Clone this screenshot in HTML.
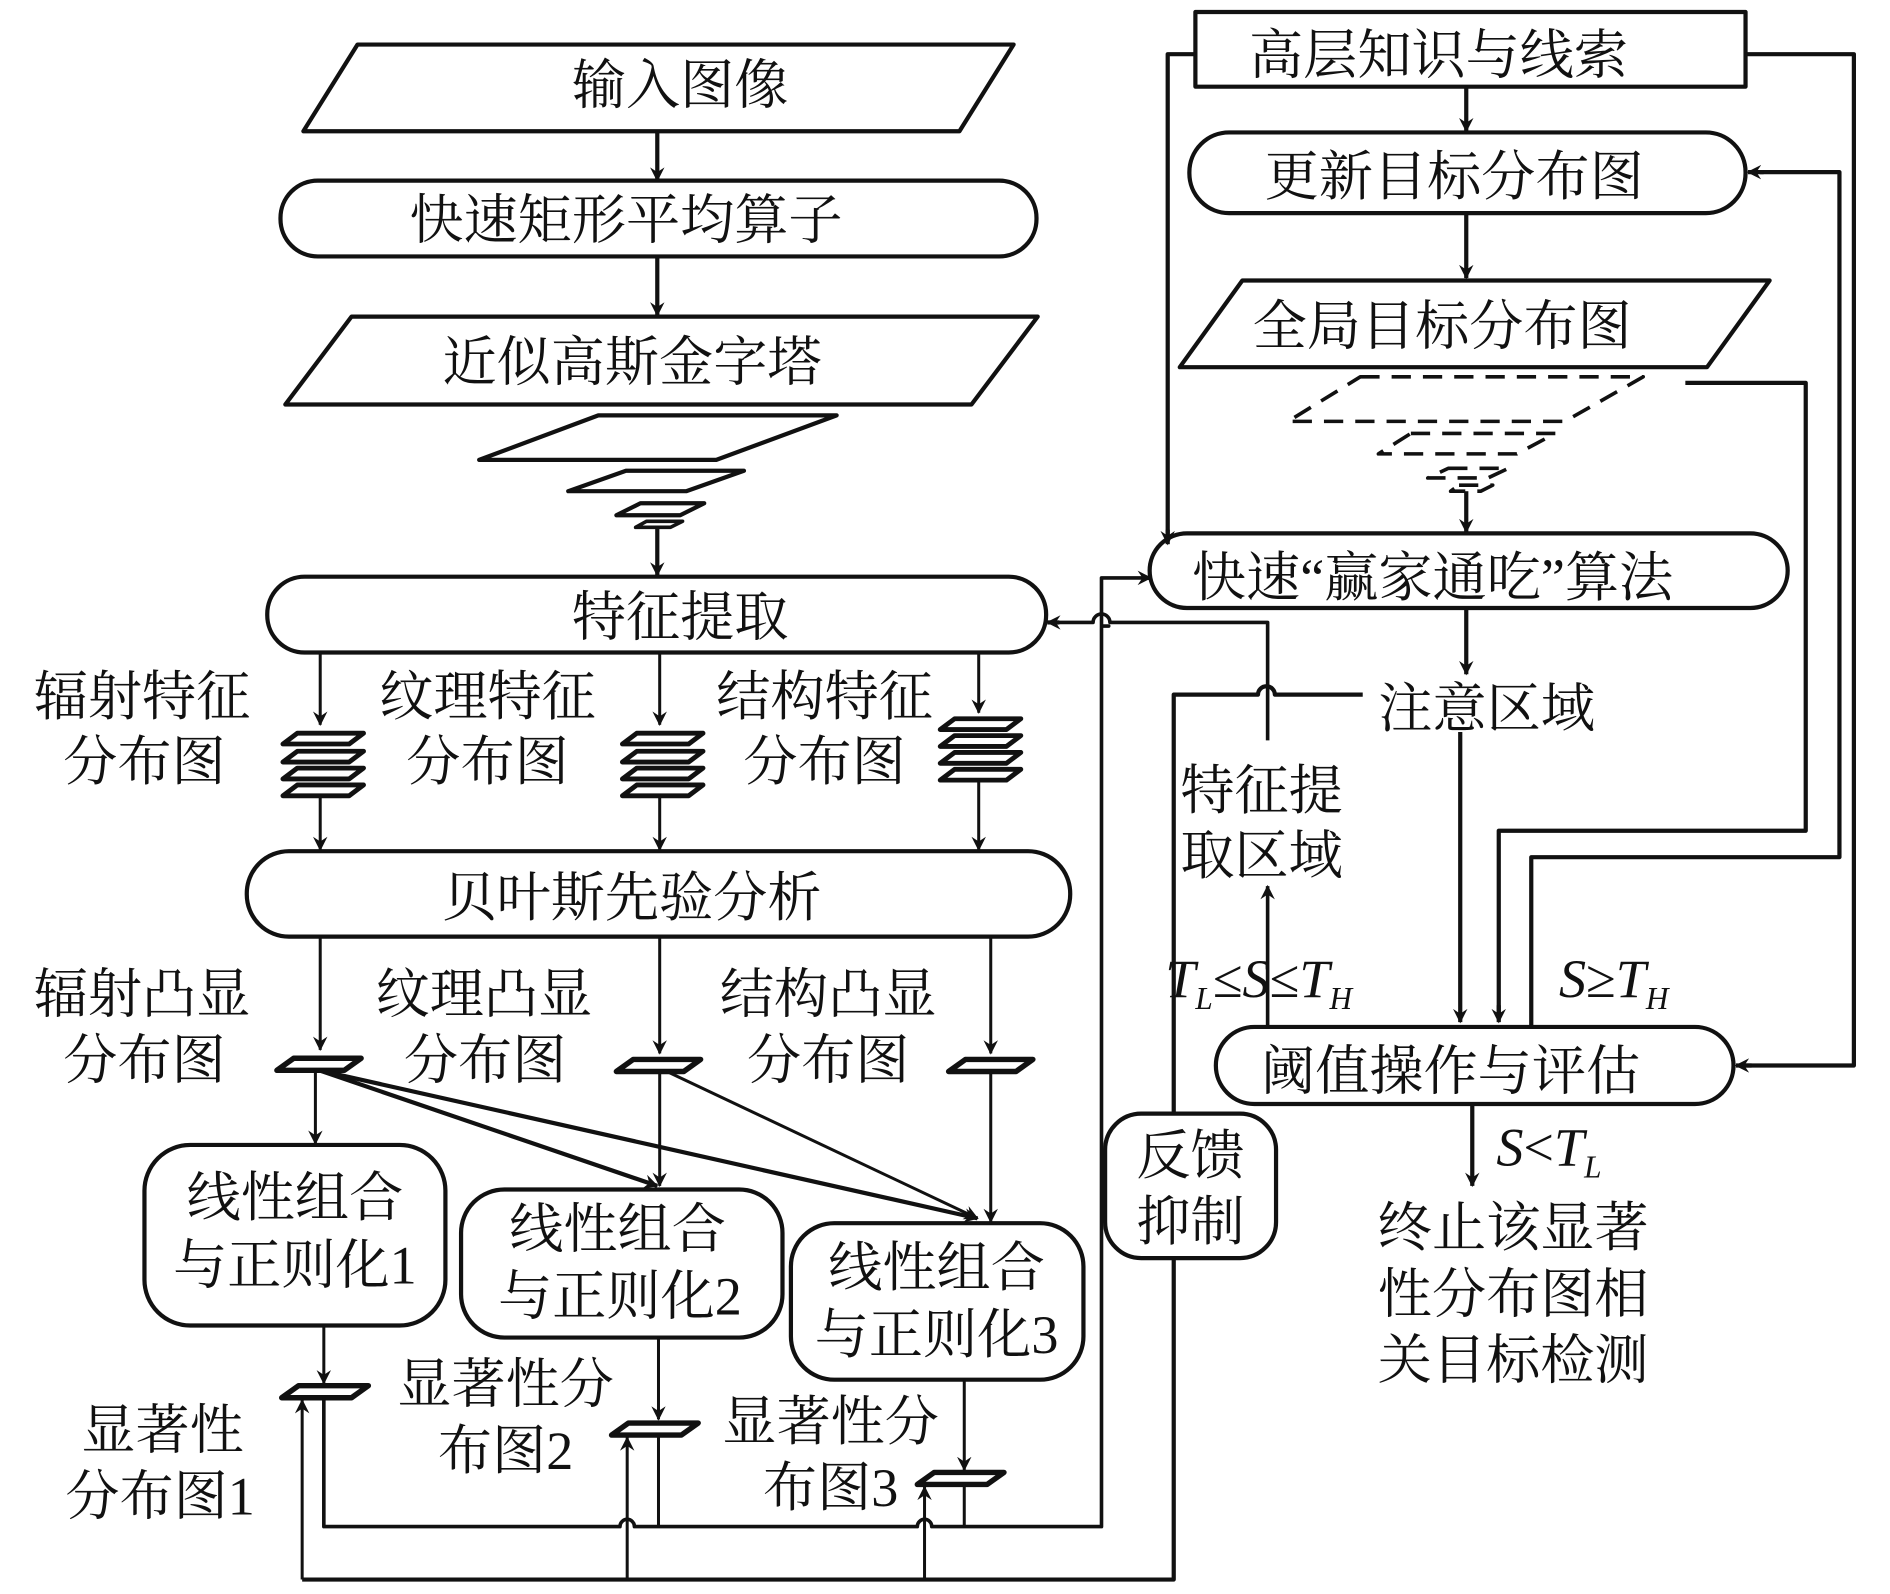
<!DOCTYPE html>
<html><head><meta charset="utf-8"><style>
html,body{margin:0;padding:0;background:#fff;width:1890px;height:1594px;overflow:hidden}
svg{display:block}
text{font-family:"Liberation Serif","Noto Serif CJK SC",serif;font-size:45px;fill:#111}
.it{font-style:italic}
</style></head><body>
<svg width="1890" height="1594" viewBox="0 0 1570 1324" preserveAspectRatio="none" xmlns="http://www.w3.org/2000/svg">
<defs>
<marker id="a" viewBox="0 0 12 12" refX="11" refY="6" markerWidth="12" markerHeight="12" markerUnits="userSpaceOnUse" orient="auto">
<path d="M0,0 L12,6 L0,12 L4,6 Z" fill="#111"/></marker>
</defs>
<g fill="none" stroke="#111" stroke-width="3.5" stroke-linejoin="round">
<!-- left column -->
<path d="M297,37 L842,37 L797,109 L252,109 Z" fill="#fff"/>
<line x1="546" y1="109" x2="546" y2="150" marker-end="url(#a)"/>
<rect x="233" y="150" width="628" height="63" rx="31" fill="#fff"/>
<line x1="546" y1="213" x2="546" y2="262" marker-end="url(#a)"/>
<path d="M292,263 L862,263 L807,336 L237,336 Z" fill="#fff"/>
<path d="M497,345 L695,345 L595,382 L398,382 Z"/>
<path d="M520,391 L618,391 L570,408 L472,408 Z"/>
<path d="M532,418 L585,418 L565,428 L512,428 Z"/>
<path d="M537,433 L567,433 L557,438 L528,438 Z" stroke-width="3"/>
<line x1="546" y1="438" x2="546" y2="478" marker-end="url(#a)"/>
<rect x="222" y="479" width="647" height="63" rx="31" fill="#fff"/>
<!-- feature arrows -->
<line x1="266" y1="542" x2="266" y2="602" stroke-width="2.5" marker-end="url(#a)"/>
<line x1="548" y1="542" x2="548" y2="602" stroke-width="2.5" marker-end="url(#a)"/>
<line x1="813" y1="542" x2="813" y2="592" stroke-width="2.5" marker-end="url(#a)"/>
<!-- stacks -->
<path d="M247,609 L302,609 L290,618 L235,618 Z M247,624 L302,624 L290,633 L235,633 Z M247,638 L302,638 L290,647 L235,647 Z M247,652 L302,652 L290,661 L235,661 Z" stroke-width="4"/>
<path d="M529,609 L584,609 L572,618 L517,618 Z M529,624 L584,624 L572,633 L517,633 Z M529,638 L584,638 L572,647 L517,647 Z M529,652 L584,652 L572,661 L517,661 Z" stroke-width="4"/>
<path d="M793,597 L848,597 L836,606 L781,606 Z M793,611 L848,611 L836,620 L781,620 Z M793,625 L848,625 L836,634 L781,634 Z M793,639 L848,639 L836,648 L781,648 Z" stroke-width="4"/>
<line x1="266" y1="661" x2="266" y2="706" stroke-width="2.5" marker-end="url(#a)"/>
<line x1="548" y1="661" x2="548" y2="706" stroke-width="2.5" marker-end="url(#a)"/>
<line x1="813" y1="648" x2="813" y2="706" stroke-width="2.5" marker-end="url(#a)"/>
<rect x="205" y="707" width="684" height="71" rx="35" fill="#fff"/>
<line x1="266" y1="778" x2="266" y2="872" stroke-width="2.5" marker-end="url(#a)"/>
<line x1="548" y1="778" x2="548" y2="875" stroke-width="2.5" marker-end="url(#a)"/>
<line x1="823" y1="778" x2="823" y2="875" stroke-width="2.5" marker-end="url(#a)"/>
<path d="M244,879 L300,879 L286,889 L230,889 Z" stroke-width="4.5"/>
<path d="M526,880 L582,880 L568,890 L512,890 Z" stroke-width="4.5"/>
<path d="M802,880 L858,880 L844,890 L788,890 Z" stroke-width="4.5"/>
<line x1="262" y1="889" x2="262" y2="950" stroke-width="2.5" marker-end="url(#a)"/>
<line x1="265" y1="889" x2="546" y2="985" marker-end="url(#a)"/>
<line x1="265" y1="889" x2="812" y2="1012" marker-end="url(#a)"/>
<line x1="548" y1="890" x2="548" y2="985" stroke-width="2.5" marker-end="url(#a)"/>
<line x1="554" y1="890" x2="812" y2="1012" stroke-width="2.5" marker-end="url(#a)"/>
<line x1="823" y1="890" x2="823" y2="1015" stroke-width="2.5" marker-end="url(#a)"/>
<rect x="120" y="951" width="250" height="150" rx="38" fill="#fff"/>
<rect x="383" y="988" width="267" height="123" rx="36" fill="#fff"/>
<rect x="657" y="1016" width="243" height="130" rx="36" fill="#fff"/>
<line x1="269" y1="1101" x2="269" y2="1149" stroke-width="2.5" marker-end="url(#a)"/>
<line x1="547" y1="1111" x2="547" y2="1179" stroke-width="2.5" marker-end="url(#a)"/>
<line x1="801" y1="1146" x2="801" y2="1221" stroke-width="2.5" marker-end="url(#a)"/>
<path d="M248,1151 L306,1151 L292,1161 L234,1161 Z" stroke-width="4.5"/>
<path d="M522,1182 L580,1182 L566,1192 L508,1192 Z" stroke-width="4.5"/>
<path d="M776,1223 L834,1223 L820,1233 L762,1233 Z" stroke-width="4.5"/>
<!-- bottom feedback lines -->
<path d="M269,1161 L269,1268 L515,1268 A6,6 0 0 1 527,1268 L762,1268 A6,6 0 0 1 774,1268 L915,1268 L915,520 L921,520 L915,520 L915,480 L950,480" stroke-width="3"/>
<path d="M547,1192 L547,1268 M801,1233 L801,1268" stroke-width="2.5"/>
<line x1="950" y1="480" x2="956" y2="480" marker-end="url(#a)"/>
<path d="M251,1312 L975,1312 L975,577 L1045,577 A7,7 0 0 1 1059,577 L1132,577" stroke-width="3.5"/>
<line x1="251" y1="1312" x2="251" y2="1163" stroke-width="2.5" marker-end="url(#a)"/>
<line x1="521" y1="1312" x2="521" y2="1194" stroke-width="2.5" marker-end="url(#a)"/>
<line x1="768" y1="1312" x2="768" y2="1235" stroke-width="2.5" marker-end="url(#a)"/>
<!-- feature region line -->
<path d="M1053,615 L1053,517 L922,517 A7,7 0 0 0 908,517 L872,517" stroke-width="3"/>
<line x1="880" y1="517" x2="870" y2="517" marker-end="url(#a)"/>
<line x1="1053" y1="853" x2="1053" y2="736" stroke-width="3" marker-end="url(#a)"/>
<!-- 反馈抑制 -->
<rect x="918" y="925" width="142" height="120" rx="30" fill="#fff"/>
<!-- right column -->
<rect x="993" y="10" width="457" height="62" fill="#fff"/>
<line x1="1218" y1="72" x2="1218" y2="109" marker-end="url(#a)"/>
<rect x="988" y="110" width="462" height="67" rx="33" fill="#fff"/>
<line x1="1218" y1="177" x2="1218" y2="231" marker-end="url(#a)"/>
<path d="M1032,233 L1470,233 L1418,305 L980,305 Z" fill="#fff"/>
<g stroke-dasharray="16,10" stroke-width="3">
<path d="M1130,313 L1365,313 L1300,350 L1070,350 Z"/>
<path d="M1172,360 L1292,360 L1260,377 L1145,377 Z"/>
<path d="M1203,389 L1253,389 L1236,397 L1186,397 Z"/>
<path d="M1212,403 L1240,403 L1230,408 L1205,408 Z"/>
</g>
<line x1="1218" y1="408" x2="1218" y2="442" marker-end="url(#a)"/>
<rect x="955" y="443" width="530" height="62" rx="31" fill="#fff"/>
<line x1="1218" y1="505" x2="1218" y2="560" marker-end="url(#a)"/>
<path d="M993,45 L970,45 L970,448"/>
<line x1="970" y1="440" x2="970" y2="452" marker-end="url(#a)"/>
<path d="M1450,45 L1540,45 L1540,885 L1450,885"/>
<line x1="1455" y1="885" x2="1442" y2="885" marker-end="url(#a)"/>
<path d="M1272,853 L1272,712 L1528,712 L1528,143 L1462,143"/>
<line x1="1465" y1="143" x2="1452" y2="143" marker-end="url(#a)"/>
<path d="M1400,318 L1500,318 L1500,690 L1245,690 L1245,842"/>
<line x1="1245" y1="835" x2="1245" y2="849" marker-end="url(#a)"/>
<line x1="1213" y1="608" x2="1213" y2="849" marker-end="url(#a)"/>
<rect x="1010" y="853" width="430" height="64" rx="32" fill="#fff"/>
<line x1="1223" y1="917" x2="1223" y2="985" marker-end="url(#a)"/>
</g>
<!-- texts -->
<g text-anchor="middle">
<text x="565" y="86">输入图像</text>
<text x="520" y="198">快速矩形平均算子</text>
<text x="525" y="316">近似高斯金字塔</text>
<text x="565" y="528">特征提取</text>
<text x="118" y="594">辐射特征</text>
<text x="120" y="648">分布图</text>
<text x="405" y="594">纹理特征</text>
<text x="405" y="648">分布图</text>
<text x="685" y="594">结构特征</text>
<text x="685" y="648">分布图</text>
<text x="525" y="761">贝叶斯先验分析</text>
<text x="118" y="841">辐射凸显</text>
<text x="120" y="896">分布图</text>
<text x="402" y="841">纹理凸显</text>
<text x="403" y="896">分布图</text>
<text x="688" y="841">结构凸显</text>
<text x="688" y="896">分布图</text>
<text x="245" y="1010">线性组合</text>
<text x="245" y="1066">与正则化1</text>
<text x="513" y="1036">线性组合</text>
<text x="515" y="1092">与正则化2</text>
<text x="778" y="1068">线性组合</text>
<text x="778" y="1124">与正则化3</text>
<text x="135" y="1203">显著性</text>
<text x="133" y="1258">分布图1</text>
<text x="420" y="1165">显著性分</text>
<text x="420" y="1220">布图2</text>
<text x="690" y="1196">显著性分</text>
<text x="690" y="1251">布图3</text>
<text x="989" y="975">反馈</text>
<text x="989" y="1030">抑制</text>
<text x="1195" y="61">高层知识与线索</text>
<text x="1208" y="162">更新目标分布图</text>
<text x="1198" y="286">全局目标分布图</text>
<text x="1190" y="495">快速“赢家通吃”算法</text>
<text x="1235" y="604">注意区域</text>
<text x="1048" y="672">特征提</text>
<text x="1048" y="726">取区域</text>
<text x="1205" y="905">阈值操作与评估</text>
<text x="1257" y="1035">终止该显著</text>
<text x="1257" y="1090">性分布图相</text>
<text x="1257" y="1145">关目标检测</text>
</g>
<text x="968" y="828" class="it">T<tspan font-size="26" dy="10">L</tspan><tspan dy="-10" font-style="normal">≤</tspan>S<tspan font-style="normal">≤</tspan>T<tspan font-size="26" dy="10">H</tspan></text>
<text x="1295" y="828" class="it">S<tspan font-style="normal">≥</tspan>T<tspan font-size="26" dy="10">H</tspan></text>
<text x="1243" y="968" class="it">S<tspan font-style="normal">&lt;</tspan>T<tspan font-size="26" dy="10">L</tspan></text>
</svg>
</body></html>
